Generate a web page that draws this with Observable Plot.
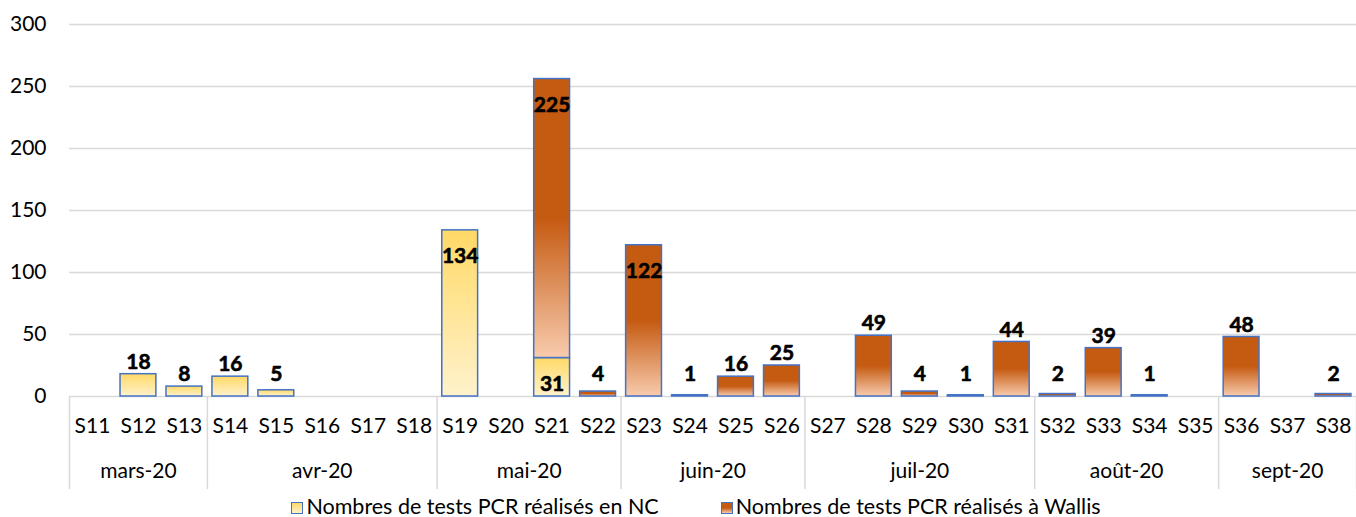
<!DOCTYPE html>
<html>
<head>
<meta charset="utf-8">
<script src="https://cdn.jsdelivr.net/npm/d3@7"></script>
<script src="https://cdn.jsdelivr.net/npm/@observablehq/plot@0.6"></script>
<style>
  html, body { margin: 0; padding: 0; background: #fff; }
  #chart { width: 1356px; font-family: Lato, "Open Sans", sans-serif; }
  .legend { display: flex; justify-content: center; align-items: center; gap: 62px; font-size: 21.5px; height: 21px; line-height: 21px; margin-left: 36px; color: #000; }
  .legend span.sw { display: inline-block; width: 10px; height: 10px; border: 1.5px solid #4472C4; margin-right: 3px; vertical-align: middle; position: relative; top: -1px; }
</style>
</head>
<body>
<div id="chart"></div>
<script>
// ---- data ----
const weeks = ["S11","S12","S13","S14","S15","S16","S17","S18","S19","S20","S21","S22","S23","S24","S25","S26","S27","S28","S29","S30","S31","S32","S33","S34","S35","S36","S37","S38"];
const weekNums = [11,12,13,14,15,16,17,18,19,20,21,22,23,24,25,26,27,28,29,30,31,32,33,34,35,36,37,38];
const ncTests = [0,18,8,16,5,0,0,0,134,0,31,0,0,0,0,0,0,0,0,0,0,0,0,0,0,0,0,0];
const wallisTests = [0,0,0,0,0,0,0,0,0,0,225,4,122,1,16,25,0,49,4,1,44,2,39,1,0,48,0,2];
const months = ["mars-20","avr-20","mai-20","juin-20","juil-20","août-20","sept-20"];
const monthFirstWeek = [11,14,19,23,27,32,36];
const monthLastWeek = [13,18,22,26,31,35,38];
const yTicks = [0,50,100,150,200,250,300];
const seriesNames = ["Nombres de tests PCR réalisés en NC", "Nombres de tests PCR réalisés à Wallis"];

// ---- derived tables ----
const rows = weeks.map((w, i) => ({week: weekNums[i], label: w, nc: ncTests[i], wallis: wallisTests[i]}));
const ncRows = rows.filter(d => d.nc > 0);
const waRows = rows.filter(d => d.wallis > 0);
const monthRows = months.map((m, i) => ({name: m, first: monthFirstWeek[i], last: monthLastWeek[i]}));
const seps = [monthFirstWeek[0] - 0.5, ...monthLastWeek.map(v => v + 0.5)];

// labels: inside (near top of segment) or above the stack
const labels = [];
for (const d of rows) {
  if (d.nc > 0) {
    const inside = d.wallis > 0 || d.nc > 100;
    labels.push({week: d.week, text: String(d.nc), top: d.nc, inside});
  }
  if (d.wallis > 0) {
    const inside = d.wallis > 100;
    labels.push({week: d.week, text: String(d.wallis), top: d.nc + d.wallis, inside});
  }
}
const hw = 0.39;
const blue = "#4472C4";
const font = "Lato, 'Open Sans', sans-serif";

const chart = Plot.plot({
  width: 1356,
  height: 496,
  marginLeft: 69,
  marginRight: 0,
  marginTop: 24,
  marginBottom: 100,
  style: {fontFamily: font, fontSize: "21px", color: "#000", background: "#fff", overflow: "visible"},
  x: {type: "linear", domain: [10.5, 38.5], axis: null},
  y: {domain: [0, 300], ticks: yTicks, tickSize: 0, tickPadding: 23, label: null},
  marks: [
    Plot.ruleY(yTicks, {stroke: "#d9d9d9", strokeWidth: 1.5}),
    Plot.rectY(ncRows, {x1: d => d.week - hw, x2: d => d.week + hw, y1: 0, y2: "nc", fill: "url(#gradNC)", stroke: blue, strokeWidth: 1.5}),
    Plot.rectY(waRows, {x1: d => d.week - hw, x2: d => d.week + hw, y1: "nc", y2: d => d.nc + d.wallis, fill: "url(#gradWA)", stroke: blue, strokeWidth: 1.5}),
    Plot.text(labels.filter(d => !d.inside), {x: "week", y: d => Math.max(d.top, 8), text: "text", dy: -12, fontWeight: "bold", fontSize: 21, fill: "#000", stroke: "#000", strokeWidth: 0.6}),
    Plot.text(labels.filter(d => d.inside), {x: "week", y: "top", text: "text", dy: 26, fontWeight: "bold", fontSize: 21, fill: "#000", stroke: "#000", strokeWidth: 0.6}),
    Plot.text(rows, {x: "week", text: "label", frameAnchor: "bottom", dy: 36, fontSize: 21, fill: "#000"}),
    Plot.text(monthRows, {x: d => (d.first + d.last) / 2, text: "name", frameAnchor: "bottom", dy: 81, fontSize: 21, fill: "#000"}),
    Plot.ruleX(seps, {stroke: "#d9d9d9", strokeWidth: 1.5, insetTop: 372, insetBottom: -93})
  ]
});

const svg = chart.tagName.toLowerCase() === "svg" ? chart : chart.querySelector("svg");
const defs = document.createElementNS("http://www.w3.org/2000/svg", "defs");
defs.innerHTML = `
  <linearGradient id="gradNC" x1="0" y1="0" x2="0" y2="1">
    <stop offset="0" stop-color="#FFD966"/>
    <stop offset="1" stop-color="#FFF2CC"/>
  </linearGradient>
  <linearGradient id="gradWA" x1="0" y1="0" x2="0" y2="1">
    <stop offset="0" stop-color="#C55A11"/>
    <stop offset="0.5" stop-color="#C55A11"/>
    <stop offset="1" stop-color="#F8CBAD"/>
  </linearGradient>`;
svg.insertBefore(defs, svg.firstChild);

const root = document.getElementById("chart");
root.appendChild(chart);
const legend = document.createElement("div");
legend.className = "legend";
legend.innerHTML = `
  <div><span class="sw" style="background: linear-gradient(#FFD966, #FFF2CC)"></span>${seriesNames[0]}</div>
  <div><span class="sw" style="background: linear-gradient(#C55A11 50%, #F8CBAD)"></span>${seriesNames[1]}</div>`;
root.appendChild(legend);
</script>
</body>
</html>
